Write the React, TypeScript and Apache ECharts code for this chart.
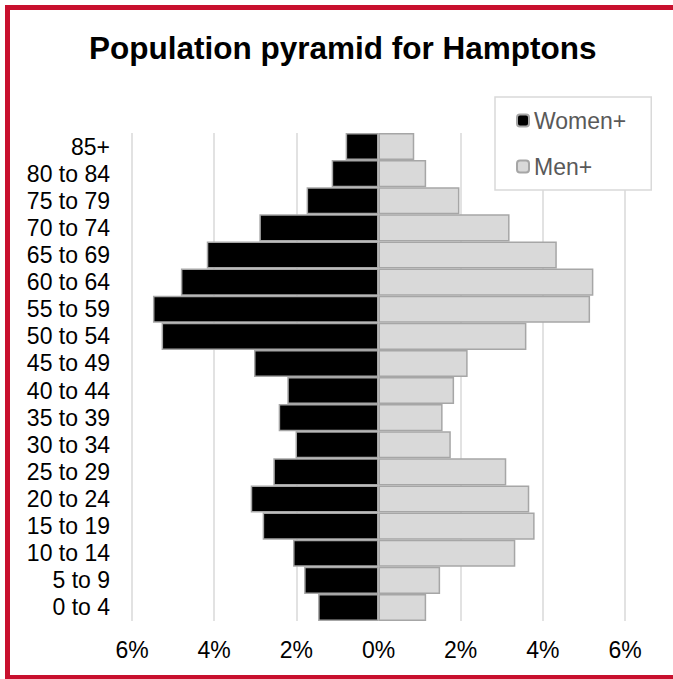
import React, { useEffect, useRef } from "react";
import * as echarts from "echarts";

const categories = [
  "0 to 4", "5 to 9", "10 to 14", "15 to 19", "20 to 24", "25 to 29",
  "30 to 34", "35 to 39", "40 to 44", "45 to 49", "50 to 54", "55 to 59",
  "60 to 64", "65 to 69", "70 to 74", "75 to 79", "80 to 84", "85+",
];
const women = [1.47, 1.81, 2.08, 2.82, 3.11, 2.56, 2.02, 2.43, 2.22, 3.03, 5.28, 5.49, 4.81, 4.18, 2.9, 1.75, 1.14, 0.8];
const men = [1.16, 1.5, 3.33, 3.8, 3.67, 3.11, 1.76, 1.56, 1.84, 2.17, 3.6, 5.15, 5.23, 4.34, 3.19, 1.97, 1.16, 0.87];
const xTicks = [-6, -4, -2, 0, 2, 4, 6];

const FONT = "'Liberation Sans', Arial, Helvetica, sans-serif";

export default function App() {
  const ref = useRef<HTMLDivElement>(null);
  useEffect(() => {
    if (!ref.current) return;
    const chart = echarts.init(ref.current, null, { renderer: "svg" });
    chart.setOption({
      animation: false,
      backgroundColor: "transparent",
      title: {
        text: "Population pyramid for Hamptons",
        left: 84,
        top: 27,
        textStyle: { fontFamily: FONT, fontSize: 31.5, fontWeight: "bold", color: "#000" },
      },
      legend: {
        orient: "vertical",
        left: 495,
        top: 97,
        padding: [12, 25, 12, 21],
        itemWidth: 12,
        itemHeight: 12,
        itemGap: 23,
        borderColor: "#d9d9d9",
        borderWidth: 1.5,
        backgroundColor: "#fff",
        textStyle: { fontFamily: FONT, fontSize: 23, lineHeight: 22, color: "#595959" },
        data: ["Women+", "Men+"],
      },
      grid: { left: 132, right: 48, top: 133, bottom: 58, containLabel: false },
      xAxis: {
        type: "value",
        min: xTicks[0],
        max: xTicks[xTicks.length - 1],
        interval: 2,
        axisLine: { show: false },
        axisTick: { show: false },
        splitLine: { show: true, lineStyle: { color: "#d9d9d9", width: 1.5 } },
        axisLabel: {
          margin: 17,
          fontFamily: FONT,
          fontSize: 23,
          color: "#000",
          formatter: (v: number) => Math.abs(v) + "%",
        },
      },
      yAxis: {
        type: "category",
        data: categories,
        axisLine: { show: false },
        axisTick: { show: false },
        splitLine: { show: false },
        axisLabel: { interval: 0, margin: 22, fontFamily: FONT, fontSize: 23, color: "#000" },
      },
      series: [
        {
          name: "Women+",
          type: "bar",
          data: women.map((v) => -v),
          barWidth: "100%",
          barGap: "-100%",
          itemStyle: { color: "#000", borderColor: "#a6a6a6", borderWidth: 1.5 },
        },
        {
          name: "Men+",
          type: "bar",
          data: men,
          barWidth: "100%",
          barGap: "-100%",
          itemStyle: { color: "#d9d9d9", borderColor: "#a6a6a6", borderWidth: 1.5 },
        },
      ],
    });
    return () => chart.dispose();
  }, []);

  return (
    <div style={{ position: "absolute", left: 0, top: 0, width: 673, height: 679, overflow: "hidden", background: "#fff" }}>
      <div
        style={{
          position: "absolute",
          left: 5,
          top: 5,
          width: 700,
          height: 675,
          boxSizing: "border-box",
          border: "5px solid #c8102e",
        }}
      />
      <div ref={ref} style={{ position: "absolute", left: 0, top: 0, width: 673, height: 679 }} />
    </div>
  );
}
